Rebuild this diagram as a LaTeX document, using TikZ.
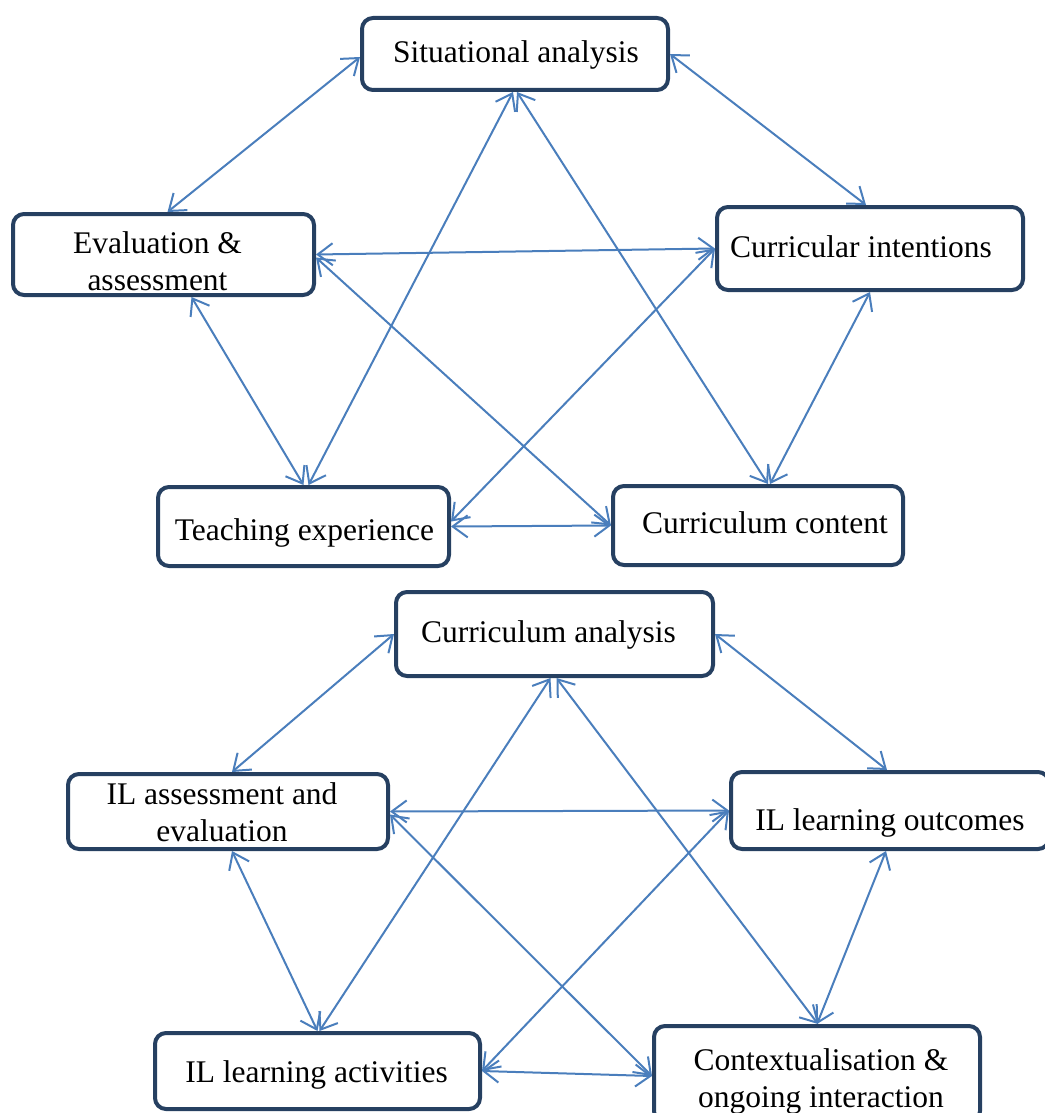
\documentclass[tikz,border=0pt]{standalone}
\usepackage{fontspec}
\setmainfont{Liberation Serif}
\usepackage{xcolor}
\usepackage{tikz}
\usetikzlibrary{arrows.meta}

\definecolor{boxline}{RGB}{38,64,97}
\definecolor{linkblue}{RGB}{74,126,188}

% text of a box: shift right by #1, raise by #2
\newcommand{\boxtext}[3]{\raisebox{#2}[0pt][0pt]{\makebox[0pt]{\kern#1\kern#1\begin{tabular}[t]{@{}c@{}}#3\end{tabular}}}}

\tikzset{
    stage/.style={draw=boxline, line width=4pt, rounded corners=11pt, fill=white,
        font=\fontsize{31.5}{37}\selectfont, inner sep=0pt},
    link/.style={linkblue, line width=2pt, {Straight Barb[length=15pt,width=22pt]}-{Straight Barb[length=15pt,width=22pt]}}
}

\begin{document}
\begin{tikzpicture}[x=1pt,y=-1pt]
    \useasboundingbox (0,0) rectangle (1044,1113);
    % upper cycle
    \node[stage, minimum width=306pt, minimum height=72pt] (sit) at (515,54) {\boxtext{1pt}{-9pt}{Situational analysis}};
    \node[stage, minimum width=301pt, minimum height=81pt] (eva) at (163.5,254.5) {\boxtext{-6pt}{1.5pt}{Evaluation \&\\assessment}};
    \node[stage, minimum width=306pt, minimum height=83pt] (cin) at (870,248.5) {\boxtext{-9pt}{-8.5pt}{Curricular intentions}};
    \node[stage, minimum width=291pt, minimum height=79pt] (tea) at (303.5,526.5) {\boxtext{1pt}{-13.5pt}{Teaching experience}};
    \node[stage, minimum width=290pt, minimum height=79pt] (cco) at (758,525.5) {\boxtext{7pt}{-7.5pt}{Curriculum content}};

    \draw [link] ([yshift=-3pt]sit.west) -- ([xshift=4pt]eva.north);
    \draw [link] (sit.east) -- ([xshift=-4pt]cin.north);
    \draw [link] ([xshift=-2pt]sit.south) -- ([xshift=5pt]tea.north);
    \draw [link] ([xshift=2pt]sit.south) -- ([xshift=10pt]cco.north);
    \draw [link] (eva.east) -- (cin.west);
    \draw [link] ([xshift=28pt]eva.south) -- (tea.north);
    \draw [link] ([yshift=-3pt]eva.east) -- (cco.west);
    \draw [link] (cin.west) -- ([yshift=5pt]tea.east);
    \draw [link] (cin.south) -- ([xshift=12pt]cco.north);
    \draw [link] (tea.east) -- (cco.west);

    % lower cycle
    \node[stage, minimum width=317pt, minimum height=84pt] (can) at (554.5,634) {\boxtext{-6pt}{-8pt}{Curriculum analysis}};
    \node[stage, minimum width=320pt, minimum height=75pt] (ila) at (228,811.5) {\boxtext{-6pt}{7.5pt}{IL assessment and\\evaluation}};
    \node[stage, minimum width=318pt, minimum height=77pt] (ilo) at (890,810.5) {\boxtext{0pt}{-19.5pt}{IL learning outcomes}};
    \node[stage, minimum width=325pt, minimum height=76pt] (ilact) at (317.5,1071) {\boxtext{-1pt}{-11pt}{IL learning activities}};
    \node[stage, minimum width=326pt, minimum height=96pt] (ctx) at (817,1074) {\boxtext{4pt}{4pt}{Contextualisation \&\\ongoing interaction}};

    \draw [link] (can.west) -- ([xshift=4pt]ila.north);
    \draw [link] (can.east) -- ([xshift=-3pt]ilo.north);
    \draw [link] ([xshift=-4pt]can.south) -- ([xshift=2pt]ilact.north);
    \draw [link] ([xshift=2pt]can.south) -- ([xshift=1pt]ctx.north);
    \draw [link] (ila.east) -- (ilo.west);
    \draw [link] ([xshift=4pt]ila.south) -- (ilact.north);
    \draw [link] ([yshift=-3pt]ila.east) -- ([yshift=-2pt]ctx.west);
    \draw [link] (ilo.west) -- (ilact.east);
    \draw [link] ([xshift=-4pt]ilo.south) -- (ctx.north);
    \draw [link] (ilact.east) -- ([yshift=-2pt]ctx.west);
\end{tikzpicture}
\end{document}
